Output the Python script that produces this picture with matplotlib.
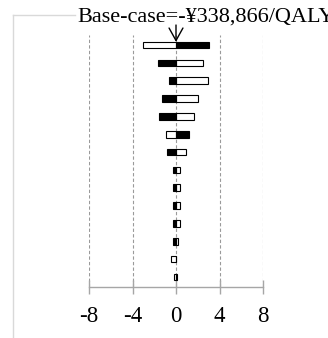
import numpy as np
import matplotlib
matplotlib.use("Agg")
import matplotlib.pyplot as plt
from matplotlib.lines import Line2D

plt.rcParams["font.family"] = ["Liberation Serif", "DejaVu Serif"]

# Tornado data: change in ICER (relative to base case), one row per parameter
black_vals = [3.0, -1.7, -0.6, -1.3, -1.55, 1.15, -0.8, -0.3, -0.3, -0.3, -0.3, -0.3, 0.0, 0.12]
white_vals = [-3.0, 2.5, 2.95, 2.0, 1.7, -0.9, 0.9, 0.35, 0.35, 0.35, 0.35, 0.15, -0.45, -0.2]
xticks = [-8, -4, 0, 4, 8]
title = "Base-case=-¥338,866/QALY"

W, H = 328, 338
fig = plt.figure(figsize=(W / 100, H / 100), dpi=100)
ax = fig.add_axes([89 / W, 51 / H, 174 / W, 252 / H])

rows = np.arange(len(black_vals))
bar_h = 0.37

# grid lines
for t in xticks:
    ax.axvline(t, color="#9a9a9a", linestyle=(0, (3, 2)), linewidth=0.8, zorder=0)

ax.barh(rows, white_vals, height=bar_h, color="white", edgecolor="black", linewidth=0.8, zorder=2)
ax.barh(rows, black_vals, height=bar_h, color="black", edgecolor="black", linewidth=0.8, zorder=2)

# arrow marking base case
ax.annotate("", xy=(0, -0.17), xytext=(0, -1.12),
            arrowprops=dict(arrowstyle="->,head_length=0.9,head_width=0.5",
                            color="black", lw=1, shrinkA=0, shrinkB=0,
                            mutation_scale=10),
            annotation_clip=False)

ax.set_xlim(-8, 8)
ax.set_ylim(13.56, -0.56)
ax.set_xticks(xticks)
ax.set_xticklabels([str(t) for t in xticks], fontsize=16.5)
ax.set_yticks([])
for s in ["top", "right", "left"]:
    ax.spines[s].set_visible(False)
ax.spines["bottom"].set_color("#a6a6a6")
ax.spines["bottom"].set_linewidth(1)
ax.tick_params(axis="x", direction="inout", length=10, width=1, color="#a6a6a6", pad=9)
ax.patch.set_alpha(0)

# outer frame remains
fig.add_artist(Line2D([13 / W, 13 / W], [0, 1 - 15 / H], transform=fig.transFigure,
                      color="#d9d9d9", lw=1))
fig.add_artist(Line2D([13 / W, 75 / W], [1 - 15 / H, 1 - 15 / H], transform=fig.transFigure,
                      color="#d9d9d9", lw=1))

fig.text(77 / W, 1 - 22 / H, title, fontsize=16, va="baseline", ha="left")

fig.savefig("out.png", dpi=100)
